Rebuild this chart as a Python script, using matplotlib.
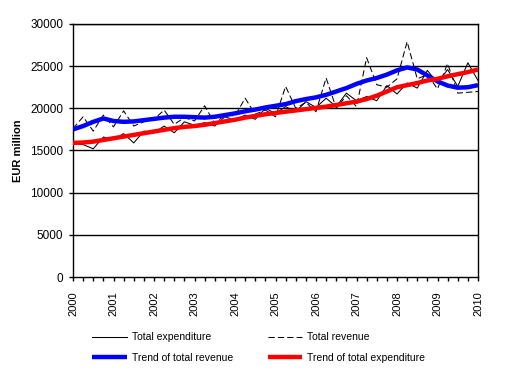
import matplotlib
matplotlib.use("Agg")
import matplotlib.pyplot as plt
import numpy as np

plt.rcParams['font.family'] = ['Liberation Sans', 'DejaVu Sans']

quarters = [2000 + i * 0.25 for i in range(41)]

total_revenue = [17600, 19000, 17300, 19200, 17800, 19700, 17900, 18400, 18700, 19800,
                 18100, 18900, 18500, 20300, 18200, 19200, 19100, 21200, 19300, 19800,
                 19000, 22600, 20000, 20700, 19600, 23600, 20000, 21500, 20200, 26000,
                 22800, 22500, 23500, 27900, 23500, 24000, 22300, 25300, 21800, 21900,
                 22000]
total_expenditure = [15900, 15700, 15200, 16600, 16300, 17000, 15900, 17300, 17100, 17900,
                     17100, 18400, 18000, 18300, 17900, 19000, 18600, 19200, 18700, 20000,
                     19400, 20200, 19600, 20800, 20100, 21200, 20200, 21800, 20900, 21400,
                     20900, 22700, 21700, 23000, 22400, 24500, 23000, 24600, 22600, 25400,
                     23300]
trend_revenue = [17500, 17900, 18400, 18800, 18500, 18400, 18450, 18600, 18750, 18900,
                 19000, 19000, 18950, 18900, 19000, 19200, 19400, 19650, 19850, 20100,
                 20300, 20500, 20850, 21100, 21300, 21600, 22000, 22400, 22900, 23300,
                 23600, 24000, 24500, 24850, 24600, 23900, 23200, 22700, 22450, 22500,
                 22750]
trend_expenditure = [15900, 15950, 16050, 16250, 16450, 16650, 16850, 17050, 17250, 17450,
                     17650, 17800, 17900, 18050, 18250, 18450, 18650, 18900, 19100, 19300,
                     19450, 19600, 19750, 19900, 20050, 20200, 20400, 20600, 20800, 21100,
                     21500, 22000, 22500, 22750, 23000, 23300, 23500, 23800, 24050, 24300,
                     24600]
year_labels = [str(y) for y in range(2000, 2011)]
y_ticks = [0, 5000, 10000, 15000, 20000, 25000, 30000]

fig = plt.figure(figsize=(5.09, 3.74), dpi=100)
ax = fig.add_axes([73/509, 1-277/374, (478-73)/509, (277-24)/374])

for t in y_ticks[1:]:
    ax.axhline(t, color='black', lw=1.0, zorder=1)

l_exp, = ax.plot(quarters, total_expenditure, color='black', lw=0.75, zorder=2,
                 label='Total expenditure')
l_rev, = ax.plot(quarters, total_revenue, color='black', lw=0.75, dashes=(6, 3), zorder=2,
                 label='Total revenue')
l_trev, = ax.plot(quarters, trend_revenue, color='#0000ff', lw=3.2, zorder=3,
                  solid_capstyle='butt', label='Trend of total revenue')
l_texp, = ax.plot(quarters, trend_expenditure, color='#ff0000', lw=3.2, zorder=4,
                  solid_capstyle='butt', label='Trend of total expenditure')

ax.set_xlim(2000, 2010)
ax.set_ylim(0, 30000)
ax.set_yticks(y_ticks)
ax.set_yticklabels([str(v) for v in y_ticks], fontsize=8.5)
ax.set_xticks(range(2000, 2011))
ax.set_xticklabels(year_labels, rotation=90, fontsize=8)
ax.set_xticks(quarters, minor=True)
ax.tick_params(axis='both', which='both', direction='out', length=3, width=1, color='black')
ax.tick_params(axis='x', which='minor', labelbottom=False)
ax.tick_params(axis='x', which='major', pad=7)
ax.tick_params(axis='y', pad=4)
for s in ax.spines.values():
    s.set_linewidth(1.0)
    s.set_color('black')

ax.set_ylabel('EUR million', fontsize=8, fontweight='bold', labelpad=5)

fig.legend(handles=[l_exp, l_trev, l_rev, l_texp], ncol=2, loc='upper left',
           bbox_to_anchor=(83/509, 1-323/374), frameon=False, fontsize=7.5,
           handlelength=3.3, columnspacing=3.3, labelspacing=1.0, handletextpad=0.5)

fig.savefig('out.png', dpi=100)
